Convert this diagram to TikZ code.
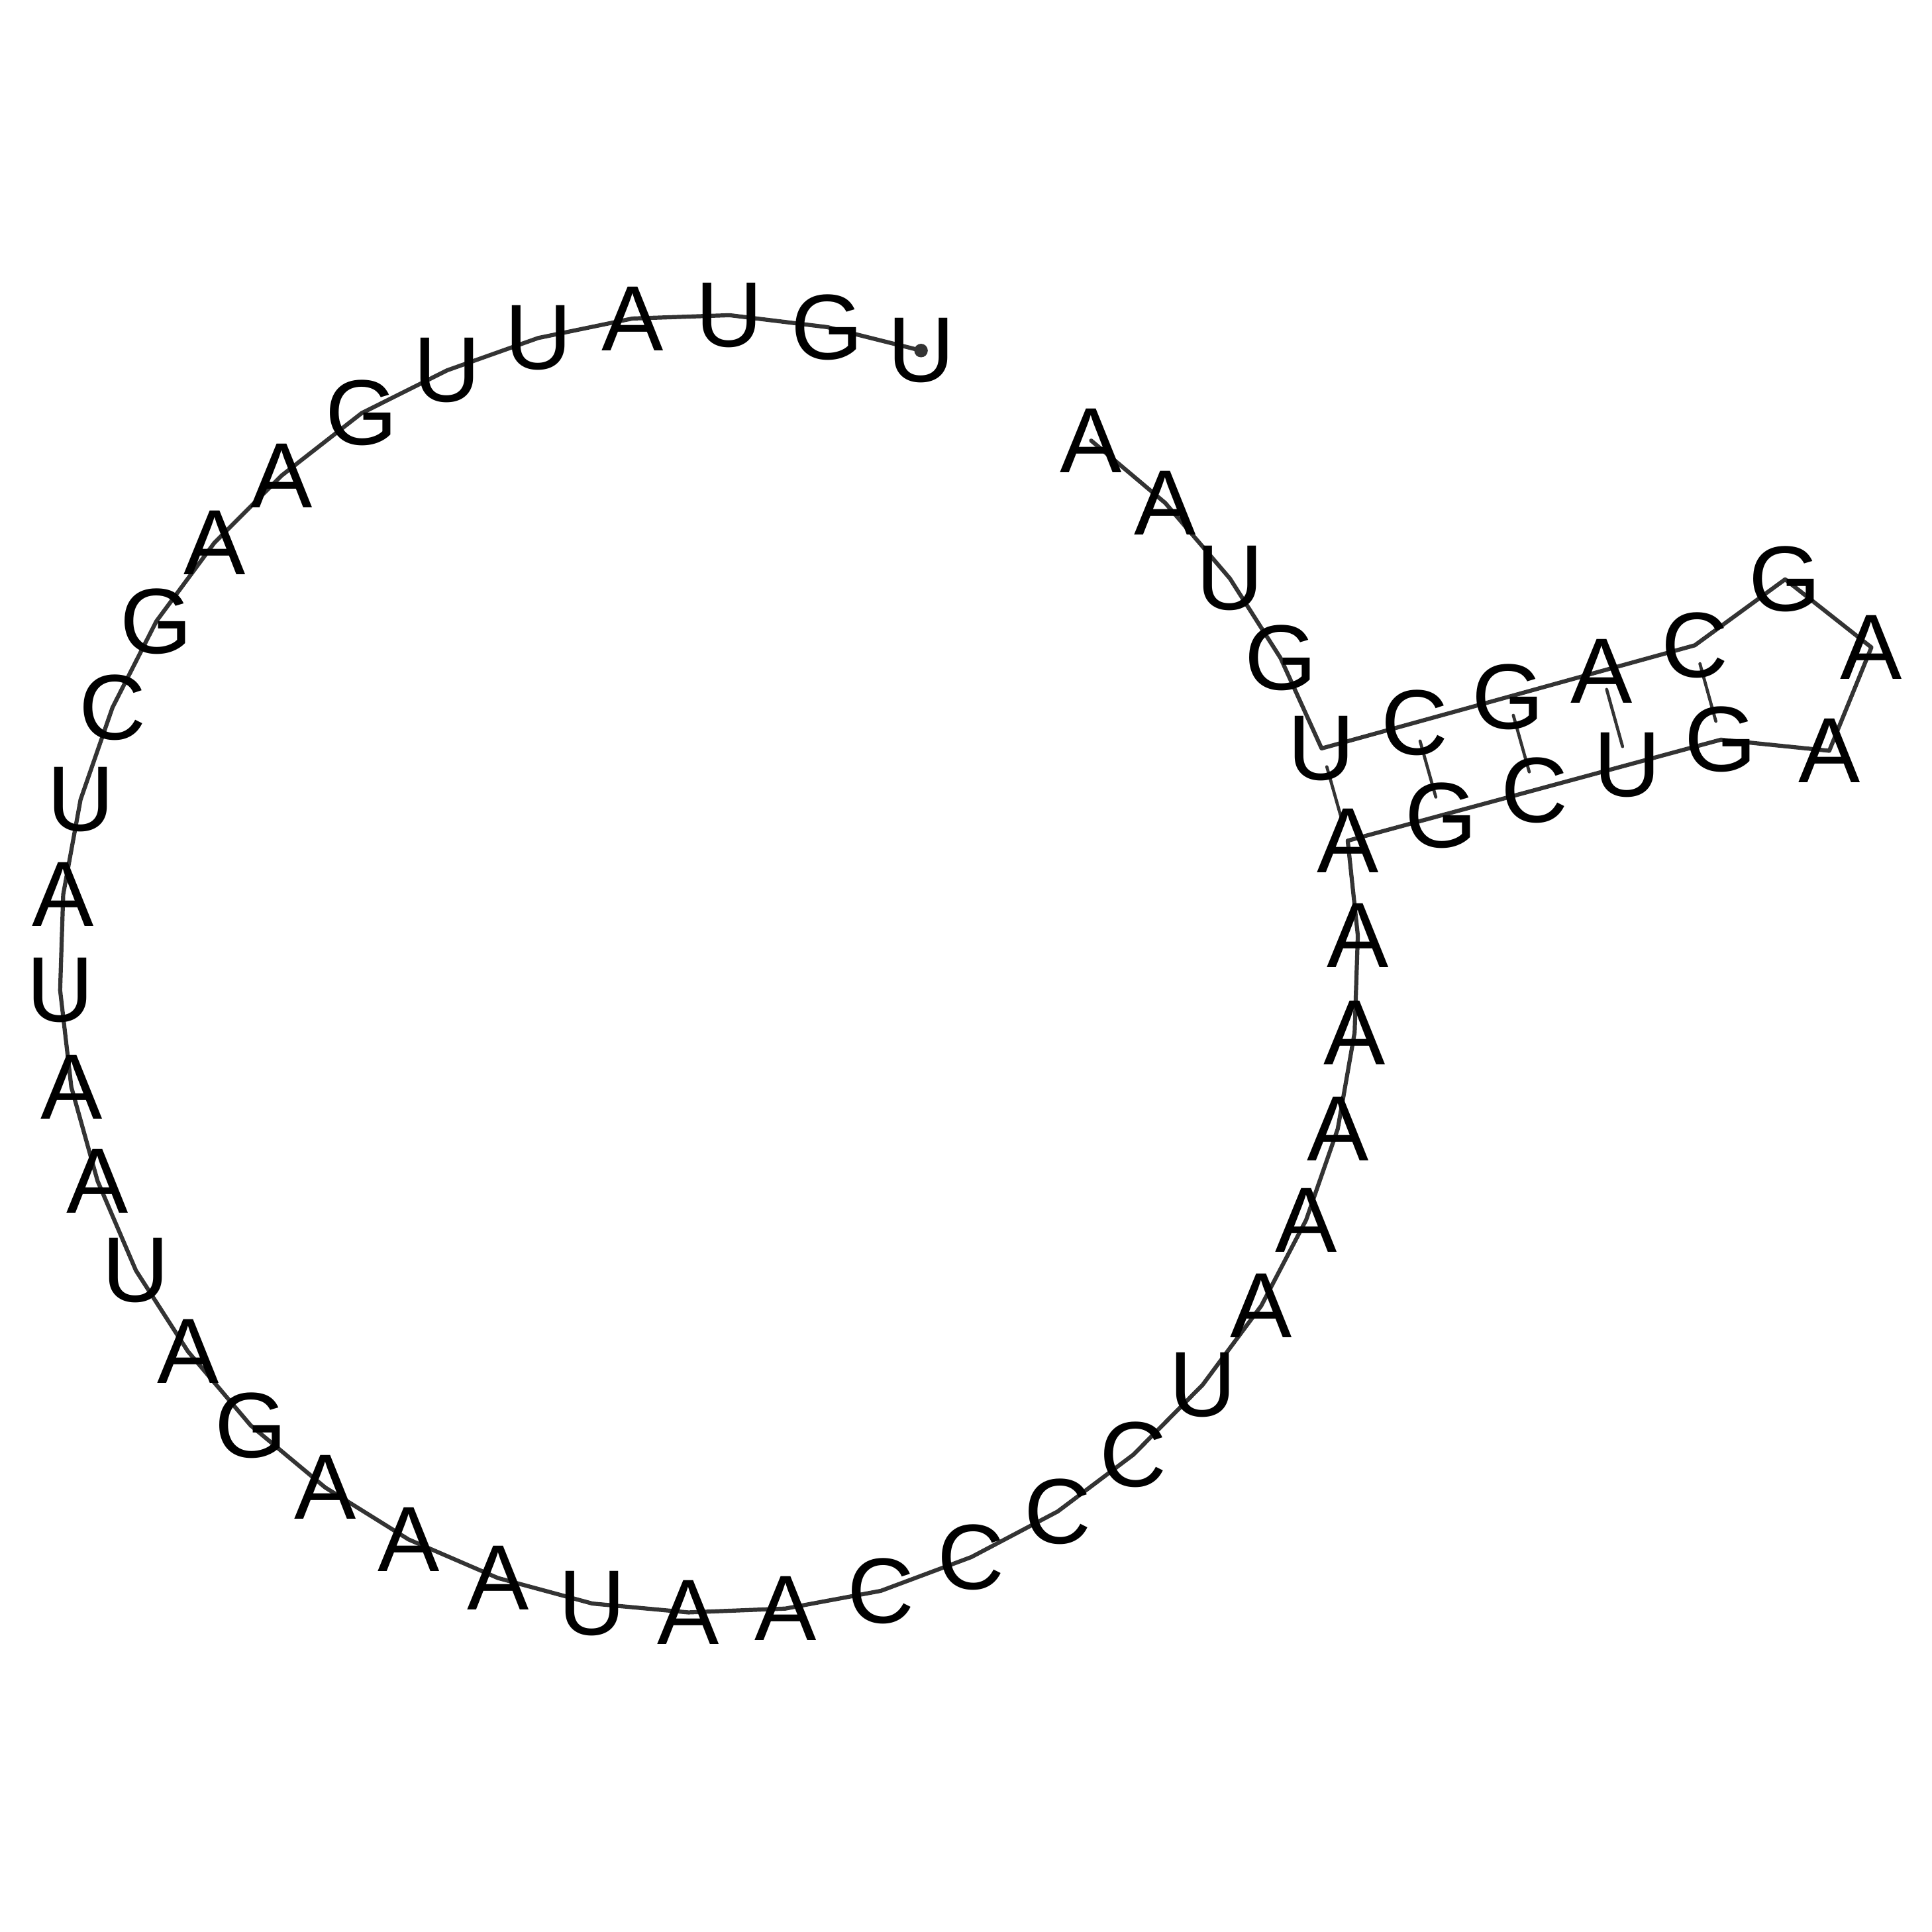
\documentclass[tikz,border=0pt]{standalone}
\usepackage{fontspec}
\setmainfont{Liberation Sans}
\usepackage{tikz}
\definecolor{bbgray}{HTML}{333333}

\begin{document}
\begin{tikzpicture}[x=0.1mm,y=-0.1mm,
  backbone/.style={draw=bbgray,line width=0.95pt,line join=round,line cap=round},
  pairline/.style={draw=bbgray,line width=0.72pt,line cap=round,shorten >=1.55mm,shorten <=1.55mm},
  base/.style={inner sep=0pt,anchor=center,font=\fontsize{21.4}{25}\selectfont}]
\useasboundingbox (0,0) rectangle (1568,1568);
% base positions, 5' end first
\foreach \xx/\yy/\bb [count=\ii] in {
  747.5/284.5/U, 671.5/265.5/G, 592.1/255.8/U, 513.3/258.5/A, 436.8/274.3/U,
  363.0/300.5/U, 293.5/335.3/G, 228.5/386.0/A, 174.0/440.5/A, 126.9/504.2/G,
  91.3/574.2/C, 65.4/648.9/U, 51.3/726.0/A, 48.8/803.6/U, 57.9/882.3/A,
  79.2/958.5/A, 110.3/1031.1/U, 152.6/1096.9/A, 203.5/1156.9/G, 263.9/1207.2/A,
  331.6/1249.4/A, 404.1/1280.7/A, 480.7/1301.4/U, 558.7/1308.6/A, 637.4/1305.5/A,
  714.9/1291.1/C, 788.3/1263.7/C, 858.4/1226.7/C, 919.8/1180.6/C, 976.0/1124.0/U,
  1023.6/1059.8/A, 1060.0/990.2/A, 1085.7/916.2/A, 1099.4/838.0/A, 1102.0/759.3/A,
  1093.8/682.3/A, 1169.5/661.8/G, 1245.3/641.3/C, 1321.0/620.8/U, 1396.7/600.3/G,
  1484.6/609.3/A, 1518.8/525.4/A, 1448.8/470.2/G, 1375.5/523.7/C, 1299.8/544.6/A,
  1224.0/565.6/G, 1148.3/586.5/C, 1072.6/607.4/U, 1039.3/534.1/G, 998.1/469.4/U,
  945.7/408.2/A, 885.6/357.6/A}
  {\coordinate (p\ii) at (\xx,\yy);}
% backbone
\draw[backbone] (p1) \foreach \ii in {2,...,52} { -- (p\ii) };
% base pairs of the hairpin stem
\foreach \aa/\cc in {36/48,37/47,38/46,39/45,40/44}
  {\draw[pairline] (p\aa) -- (p\cc);}
% 5' end marker
\fill[bbgray] (p1) circle (5.5);
% letters
\foreach \bb [count=\ii] in {U,G,U,A,U,U,G,A,A,G,C,U,A,U,A,A,U,A,G,A,A,A,U,A,A,
  C,C,C,C,U,A,A,A,A,A,A,G,C,U,G,A,A,G,C,A,G,C,U,G,U,A,A}
  {\node[base] (b\ii) at (p\ii) {\bb};}
\end{tikzpicture}
\end{document}
